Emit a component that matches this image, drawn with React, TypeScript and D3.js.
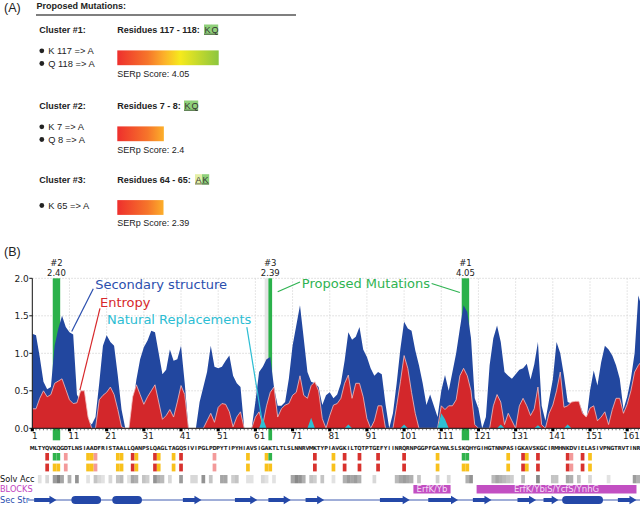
import React from 'react';
import * as d3 from 'd3';

// protein sequence, residue 1 .. 164
const SEQUENCE =
  'MLTYQVKQGDTLNSIAADFRISTAALLQANPSLQAGLTAGQSIVIPGLPDPYTIPYHIAVSIGAKTLTLSLNNRVMKTYPIAVGKILTQTPTGEFYIINRQRNPGGPFGAYWLSLSKQHYGIHGTNNPASIGKAVSKGCIRMHNKDVIELASIVPNGTRVTINR';

// per-residue scores (index 0 = residue 1)
const secondaryStructure = [
  1.26, 1.24, 0.95, 0.62, 0.52, 0.55, 1.10, 1.33, 1.50, 1.35,
  1.28, 1.25, 0.45, 0.35, 0.30, 0.10, 0.05, 0.15, 0.60, 1.10,
  1.24, 1.15, 1.10, 0.70, 0.25, 0, 0, 0.30, 0.65, 0.92,
  1.08, 1.17, 1.30, 1.28, 1.00, 0.72, 0.78, 1.05, 0.90, 0.92,
  1.10, 0.60, 0, 0, 0, 0.35, 0.55, 0.75, 1.10, 0.82,
  0.80, 0.82, 0.90, 0.97, 0.70, 0.60, 0.55, 0, 0, 0,
  0.35, 0.75, 0.82, 0.92, 0.95, 0.55, 0.30, 0.30, 0.35, 0.66,
  1.10, 1.37, 1.64, 1.20, 0.75, 0.62, 0.60, 0.55, 0.31, 0.44,
  0.48, 0.40, 0.45, 0.60, 0.90, 1.28, 1.18, 1.22, 1.35, 1.05,
  0.95, 0.80, 0.70, 0.75, 0.72, 0.32, 0, 0.20, 0.60, 1.06,
  1.42, 1.33, 1.30, 1.04, 0.84, 0.60, 0.31, 0.45, 0.30, 0.15,
  0.50, 0.71, 0.50, 0.75, 1.00, 1.33, 1.64, 1.55, 1.20, 0.40,
  0.26, 0, 0.15, 0.84, 1.20, 1.37, 1.15, 0.75, 0.70, 0.66,
  0.72, 0.78, 0.80, 0.86, 0.65, 0.85, 1.15, 0.30, 0.10, 0.38,
  0.65, 1.15, 1.00, 0.70, 0.35, 0.33, 0.33, 0.35, 0.22, 0.10,
  0.50, 0.77, 0.57, 0.88, 1.10, 1.05, 0.97, 0.84, 0.66, 0.25,
  0.42, 0.66, 1.00, 1.77, 1.60,
];

const entropy = [
  0.26, 0.26, 0.40, 0.50, 0.42, 0.45, 0.60, 0.63, 0.66, 0.52,
  0.38, 0.33, 0.34, 0.50, 0.50, 0.15, 0, 0, 0.38, 0.44,
  0.48, 0.55, 0.45, 0.25, 0.02, 0, 0, 0.42, 0.58, 0.45,
  0.32, 0.42, 0.50, 0.58, 0.35, 0.12, 0.17, 0.25, 0.15, 0.35,
  0.57, 0.45, 0, 0, 0, 0, 0, 0.10, 0.20, 0.08,
  0.28, 0.33, 0.32, 0.22, 0.02, 0.15, 0.22, 0, 0, 0,
  0.15, 0.22, 0.05, 0.30, 0.48, 0.55, 0.15, 0.26, 0.31, 0.33,
  0.44, 0.48, 0.70, 0.44, 0.40, 0.57, 0.62, 0.50, 0.13, 0,
  0.17, 0.31, 0.33, 0.40, 0.60, 0.71, 0.40, 0.60, 0.60, 0.42,
  0.13, 0, 0.10, 0.30, 0.30, 0, 0, 0, 0.30, 0.62,
  0.97, 0.80, 0.48, 0.20, 0, 0, 0, 0, 0, 0,
  0.30, 0.25, 0.30, 0.30, 0.38, 0.70, 0.80, 0.70, 0.50, 0.05,
  0, 0, 0, 0, 0.30, 0.45, 0.35, 0.05, 0.20, 0.10,
  0, 0.30, 0.40, 0.30, 0.17, 0.26, 0.55, 0.05, 0, 0.20,
  0.31, 0.50, 0.75, 0.28, 0.30, 0.35, 0.36, 0.36, 0.20, 0.15,
  0.27, 0.30, 0.10, 0.15, 0.22, 0.05, 0.25, 0.40, 0.40, 0.20,
  0.32, 0.50, 0.75, 0.84, 0.90,
];

// natural replacements: [residue, value], zero elsewhere
const naturalReplacements: [number, number][] = [
  [63, 0.14], [76, 0.14], [86, 0.05], [101, 0.05], [111, 0.2], [112, 0.12],
  [127, 0.05], [137, 0.04], [145, 0.05],
];

// proposed mutation clusters drawn as bars on the chart
const chartClusters = [
  { label: '#2', score: '2.40', residues: [7, 8], context: [] as number[] },
  { label: '#3', score: '2.39', residues: [65], context: [64] },
  { label: '#1', score: '4.05', residues: [117, 118], context: [] as number[] },
];

const yTicks = [0, 0.5, 1, 1.5, 2];
const xTicks = d3.range(1, 165, 10);

// conservation rows: r = red, y = yellow, p = pink, g = green
const conservationRow1: [number, string][] = [
  [5, 'r'], [7, 'g'], [8, 'g'], [10, 'p'], [16, 'y'], [17, 'y'], [18, 'p'], [24, 'y'], [25, 'y'],
  [28, 'r'], [29, 'y'], [34, 'r'], [35, 'y'], [39, 'y'], [41, 'r'], [50, 'p'], [59, 'y'],
  [64, 'y'], [65, 'g'], [77, 'r'], [82, 'y'], [85, 'r'], [89, 'r'], [94, 'r'], [101, 'r'],
  [110, 'y'], [117, 'g'], [118, 'g'], [129, 'y'], [133, 'r'], [134, 'y'], [137, 'r'],
  [145, 'r'], [146, 'p'], [149, 'r'], [151, 'y'],
];
const conservationRow2: [number, string][] = [
  [5, 'r'], [7, 'y'], [8, 'y'], [10, 'p'], [16, 'y'], [17, 'y'], [18, 'p'], [24, 'y'], [25, 'y'],
  [28, 'r'], [29, 'y'], [34, 'r'], [35, 'y'], [39, 'y'], [41, 'r'], [50, 'p'], [59, 'y'],
  [64, 'y'], [65, 'y'], [77, 'r'], [82, 'y'], [85, 'r'], [89, 'r'], [94, 'r'], [101, 'r'],
  [110, 'y'], [117, 'y'], [118, 'y'], [129, 'y'], [133, 'r'], [134, 'y'], [137, 'r'],
  [145, 'r'], [146, 'p'], [149, 'r'], [151, 'y'],
];
const conservationColors: Record<string, string> = {
  r: '#d8322e', y: '#f8c11c', p: '#f39a9a', g: '#30b34c',
};

// solvent accessibility: [residue, darkness 0..1]
const solventAccess: [number, number][] = [
  [3, 0.15], [5, 0.2], [7, 0.5], [8, 0.65], [9, 0.45], [11, 0.4], [13, 0.55], [16, 0.15],
  [18, 0.3], [19, 0.2], [20, 0.15], [22, 0.2], [24, 0.3], [25, 0.35], [27, 0.15], [28, 0.45],
  [29, 0.4], [31, 0.3], [32, 0.25], [34, 0.55], [35, 0.4], [36, 0.35], [38, 0.2], [41, 0.5],
  [44, 0.2], [45, 0.2], [47, 0.55], [49, 0.3], [52, 0.45], [53, 0.45], [55, 0.25], [56, 0.3],
  [59, 0.15], [60, 0.15], [63, 0.2], [64, 0.15], [66, 0.15], [71, 0.45], [72, 0.6], [73, 0.55],
  [74, 0.4], [76, 0.3], [77, 0.25], [79, 0.3], [82, 0.15], [85, 0.4], [86, 0.5], [87, 0.45],
  [88, 0.5], [89, 0.4], [93, 0.2], [99, 0.35], [100, 0.45], [101, 0.5], [102, 0.45], [103, 0.4],
  [105, 0.3], [110, 0.25], [113, 0.2], [118, 0.4], [119, 0.55], [125, 0.35], [126, 0.45],
  [127, 0.4], [128, 0.35], [129, 0.3], [130, 0.25], [133, 0.35], [137, 0.6], [141, 0.3],
  [142, 0.3], [145, 0.45], [146, 0.4], [148, 0.3], [151, 0.2], [156, 0.15], [163, 0.5], [164, 0.4],
];

const blocks = [
  { from: 104, to: 113, name: 'ErfK/Yb' },
  { from: 121, to: 163, name: 'ErfK/YbiS/YcfS/YnhG' },
];

const secondaryElements = [
  { type: 'E', from: 2, to: 7 },
  { type: 'H', from: 12, to: 19 },
  { type: 'H', from: 23, to: 30 },
  { type: 'E', from: 42, to: 46 },
  { type: 'E', from: 56, to: 61 },
  { type: 'E', from: 65, to: 70 },
  { type: 'E', from: 75, to: 79 },
  { type: 'E', from: 95, to: 102 },
  { type: 'E', from: 108, to: 115 },
  { type: 'E', from: 120, to: 124 },
  { type: 'E', from: 132, to: 136 },
  { type: 'E', from: 139, to: 142 },
  { type: 'H', from: 144, to: 154 },
  { type: 'E', from: 159, to: 163 },
];

// panel A clusters
const panelClusters = [
  { name: 'Cluster #1:', range: 'Residues 117 - 118: ', seq: 'KQ', hl: ['#8fd07a', '#8fd07a'], muts: ['K 117 => A', 'Q 118 => A'], score: 4.05, scoreText: '4.05' },
  { name: 'Cluster #2:', range: 'Residues 7 - 8: ', seq: 'KQ', hl: ['#8fd07a', '#8fd07a'], muts: ['K 7 => A', 'Q 8 => A'], score: 2.4, scoreText: '2.4' },
  { name: 'Cluster #3:', range: 'Residues 64 - 65: ', seq: 'AK', hl: ['#e4efa6', '#8fd07a'], muts: ['K 65 => A'], score: 2.39, scoreText: '2.39' },
];
const panelHeadY = [33, 109, 182.7];
const panelSeqX = [204, 184, 195];

// series labels and their leader lines, in data coordinates [residue, value]
const seriesLabels = [
  { text: 'Secondary structure', color: '#2b4fae', at: [17.9, 1.853], lines: [[[17.4, 1.86], [11.6, 1.29]]] },
  { text: 'Entropy', color: '#d7282b', at: [19.2, 1.62], lines: [[[19.2, 1.6], [13.8, 0.51]]] },
  { text: 'Natural Replacements', color: '#2cbdd3', at: [21.1, 1.39], lines: [[[58.7, 1.35], [63, 0.04]]] },
  { text: 'Proposed Mutations', color: '#2fb352', at: [73.5, 1.867], lines: [[[67, 1.82], [73, 1.95]], [[108.4, 1.93], [116, 1.81]]] },
];

const x = d3.scaleLinear().domain([1, 165]).range([32.3, 32.3 + 164 * 3.718]);
const step = x(2) - x(1);
const y = d3.scaleLinear().domain([0, 2]).range([428.3, 278.3]);
const scoreW = d3.scaleLinear().domain([1, 5]).range([0, 133]);

const BLUE = '#22479f';
const RED = '#d3272b';
const CYAN = '#2fc0d4';
const GREEN = '#2bb14b';
const CHART_FONT = 'DejaVu Sans, Verdana, sans-serif';
const PANEL_FONT = 'Liberation Sans, Arial, Helvetica, sans-serif';

export default function App() {
  const area = d3.area<number>()
    .x((_, i) => x(i + 1))
    .y0(y(0))
    .y1(d => y(d));
  const topLine = d3.line<number>().x((_, i) => x(i + 1)).y(d => y(d));

  const cyanMap = new Map(naturalReplacements);
  const cyanSeries = d3.range(1, 166).map(r => cyanMap.get(r) ?? 0);

  const plotRight = 640;
  const barX0 = 117.3;

  const arrowPath = (from: number, to: number, cy: number) => {
    const x0 = x(from) - step / 2;
    const x1 = x(to) + step / 2;
    const head = Math.min(7, (x1 - x0) * 0.45);
    return `M${x0},${cy - 2}L${x1 - head},${cy - 2}L${x1 - head},${cy - 4.2}L${x1},${cy}L${x1 - head},${cy + 4.2}L${x1 - head},${cy + 2}L${x0},${cy + 2}Z`;
  };

  return (
    <svg width={640} height={507} style={{ position: 'absolute', left: 0, top: 0, background: '#fff' }}>
      <defs>
        <linearGradient id="serp" gradientUnits="userSpaceOnUse" x1={barX0} x2={barX0 + scoreW(4.05)} y1={0} y2={0}>
          <stop offset="0" stopColor="#ee2f2d" />
          <stop offset="0.3" stopColor="#f6752a" />
          <stop offset="0.46" stopColor="#fcb02a" />
          <stop offset="0.62" stopColor="#f6ea1c" />
          <stop offset="1" stopColor="#8cc63f" />
        </linearGradient>
        <clipPath id="plotClip">
          <rect x={x(1)} y={y(2) - 2} width={plotRight - x(1)} height={y(0) - y(2) + 20} />
        </clipPath>
      </defs>

      {/* ---------- Panel A ---------- */}
      <g fontFamily={PANEL_FONT}>
        <text x={4} y={12} fontSize={12.5} fill="#222">(A)</text>
        <text x={36.5} y={9} fontSize={9} fontWeight="bold" fill="#222">Proposed Mutations:</text>
        <line x1={36} x2={296} y1={15} y2={15} stroke="#555" strokeWidth={1.3} />
        {panelClusters.map((c, i) => {
          const hy = panelHeadY[i];
          const bulletY = c.muts.length === 1 ? [hy + 25.8] : [hy + 20.8, hy + 33.5];
          return (
            <g key={c.name}>
              <text x={39.3} y={hy} fontSize={9} fontWeight="bold" fill="#222">{c.name}</text>
              <text x={117.3} y={hy} fontSize={9} fontWeight="bold" fill="#222">{c.range}</text>
              {c.seq.split('').map((ch, j) => (
                <g key={j}>
                  <rect x={panelSeqX[i] + j * 7} y={hy - 8.5} width={7.2} height={10.5} fill={c.hl[j]} />
                  <text x={panelSeqX[i] + j * 7 + 0.6} y={hy} fontSize={9} fill="#333">{ch}</text>
                </g>
              ))}
              <line x1={panelSeqX[i]} x2={panelSeqX[i] + c.seq.length * 7} y1={hy + 1.2} y2={hy + 1.2} stroke="#333" strokeWidth={0.7} />
              {c.muts.map((m, j) => (
                <g key={m}>
                  <circle cx={41.8} cy={bulletY[j] - 3} r={2.4} fill="#222" />
                  <text x={48.3} y={bulletY[j]} fontSize={9.3} fill="#222">{m}</text>
                </g>
              ))}
              <rect x={barX0} y={hy + 17.4} width={scoreW(c.score)} height={14.8} fill="url(#serp)" />
              <text x={117.3} y={hy + 43.5} fontSize={9} fill="#222">{`SERp Score: ${c.scoreText}`}</text>
            </g>
          );
        })}
        <text x={4} y={256} fontSize={12.5} fill="#222">(B)</text>
      </g>

      {/* ---------- Panel B chart ---------- */}
      <g fontFamily={CHART_FONT}>
        {/* grid */}
        {yTicks.filter(t => t > 0).map(t => (
          <line key={t} x1={x(1)} x2={plotRight} y1={y(t)} y2={y(t)} stroke="#cfcfcf" strokeWidth={0.8} strokeDasharray="1.5,1.5" />
        ))}
        {xTicks.filter(t => t > 1).map(t => (
          <line key={t} x1={x(t)} x2={x(t)} y1={y(2)} y2={y(0)} stroke="#d6d6d6" strokeWidth={0.8} strokeDasharray="1.5,1.5" />
        ))}

        {/* cluster highlights */}
        {chartClusters.map(c => (
          <g key={c.label}>
            {c.context.map(r => (
              <rect key={r} x={x(r) - step / 2} y={y(2)} width={step} height={y(0) - y(2)} fill="#e4e4e4" />
            ))}
            <rect
              x={x(d3.min(c.residues)!) - step / 2}
              y={y(2)}
              width={step * c.residues.length}
              height={y(0) - y(2) + 12}
              fill={GREEN}
            />
          </g>
        ))}

        <g clipPath="url(#plotClip)">
          <path d={area(secondaryStructure) ?? ''} fill={BLUE} />
          <path d={area(entropy) ?? ''} fill={RED} />
          <path d={topLine(entropy) ?? ''} fill="none" stroke="#f3c2c2" strokeWidth={0.8} />
          <path d={area(cyanSeries) ?? ''} fill={CYAN} />
        </g>

        {/* axes */}
        <line x1={x(1)} x2={plotRight} y1={y(0)} y2={y(0)} stroke="#111" strokeWidth={1} />
        <line x1={x(1)} x2={x(1)} y1={y(2)} y2={y(0)} stroke="#111" strokeWidth={1} />
        {yTicks.map(t => (
          <g key={t}>
            <line x1={x(1) - 3} x2={x(1)} y1={y(t)} y2={y(t)} stroke="#111" />
            <text x={x(1) - 3.5} y={y(t) + 3.2} fontSize={9} textAnchor="end" fill="#222">{d3.format('.1f')(t)}</text>
          </g>
        ))}
        {d3.range(1, 165).map(r => (
          <line key={r} x1={x(r)} x2={x(r)} y1={y(0)} y2={y(0) + 2} stroke="#333" strokeWidth={0.7} />
        ))}
        {xTicks.map(t => (
          <g key={t}>
            <rect x={x(t) - step / 2 + 0.3} y={y(0)} width={step - 0.6} height={3} fill="#000" />
            <text
              x={t === 1 ? x(t) + 2.4 : x(t) + 4.3}
              y={y(0) + 10.5}
              fontSize={8.8}
              textAnchor="middle"
              fill="#222"
            >
              {t}
            </text>
          </g>
        ))}

        {/* cluster labels */}
        {chartClusters.map(c => {
          const cx = x(d3.mean(c.residues)!);
          return (
            <g key={c.label} fontSize={8.5} fill="#222" textAnchor="middle">
              <text x={cx} y={y(2) - 12}>{c.label}</text>
              <text x={cx} y={y(2) - 2.5}>{c.score}</text>
            </g>
          );
        })}

        {/* series labels and leaders */}
        {seriesLabels.map(s => (
          <g key={s.text}>
            {s.lines.map((ln, i) => (
              <line key={i} x1={x(ln[0][0])} y1={y(ln[0][1])} x2={x(ln[1][0])} y2={y(ln[1][1])} stroke={s.color} strokeWidth={1.2} />
            ))}
            <text x={x(s.at[0])} y={y(s.at[1])} fontSize={13} fill={s.color}>{s.text}</text>
          </g>
        ))}

        {/* sequence */}
        <g fontSize={5.6} fontWeight="bold" fill="#222" textAnchor="middle" fontFamily="DejaVu Sans Condensed, DejaVu Sans, sans-serif">
          {SEQUENCE.split('').map((ch, i) => (
            <text key={i} x={x(i + 1)} y={449.5}>{ch}</text>
          ))}
        </g>

        {/* conservation rows */}
        {conservationRow1.map(([r, c]) => (
          <rect key={'a' + r} x={x(r) - step / 2} y={453} width={step} height={7.5} fill={conservationColors[c]} />
        ))}
        {conservationRow2.map(([r, c]) => (
          <rect key={'b' + r} x={x(r) - step / 2} y={463.6} width={step} height={7.8} fill={conservationColors[c]} />
        ))}

        {/* solvent accessibility */}
        <text x={0} y={482} fontSize={8.2} fill="#111">Solv Acc</text>
        {solventAccess.map(([r, v]) => (
          <rect key={'s' + r} x={x(r) - step / 2} y={475} width={step} height={8.3} fill="#3a3a3a" fillOpacity={v} />
        ))}

        {/* blocks */}
        <text x={0} y={491.5} fontSize={8.2} fill="#c23fc0">BLOCKS</text>
        {blocks.map(b => (
          <g key={b.name}>
            <rect x={x(b.from) - step / 2} y={485} width={x(b.to) - x(b.from) + step} height={8.5} fill="#c24fc2" />
            <text x={(x(b.from) + x(b.to)) / 2} y={492} fontSize={8.5} textAnchor="middle" fill="#f6dcf6">{b.name}</text>
          </g>
        ))}

        {/* secondary structure elements */}
        <text x={0} y={503} fontSize={8.2} fill="#2a4db0">Sec Str</text>
        <line x1={28} x2={plotRight} y1={500} y2={500} stroke="#2a4aa8" strokeWidth={0.9} />
        {secondaryElements.map((e, i) =>
          e.type === 'H' ? (
            <rect key={i} x={x(e.from) - step / 2} y={496} width={x(e.to) - x(e.from) + step} height={8} rx={4} fill="#2448a8" />
          ) : (
            <path key={i} d={arrowPath(e.from, e.to, 500)} fill="#2448a8" />
          )
        )}
      </g>
    </svg>
  );
}
